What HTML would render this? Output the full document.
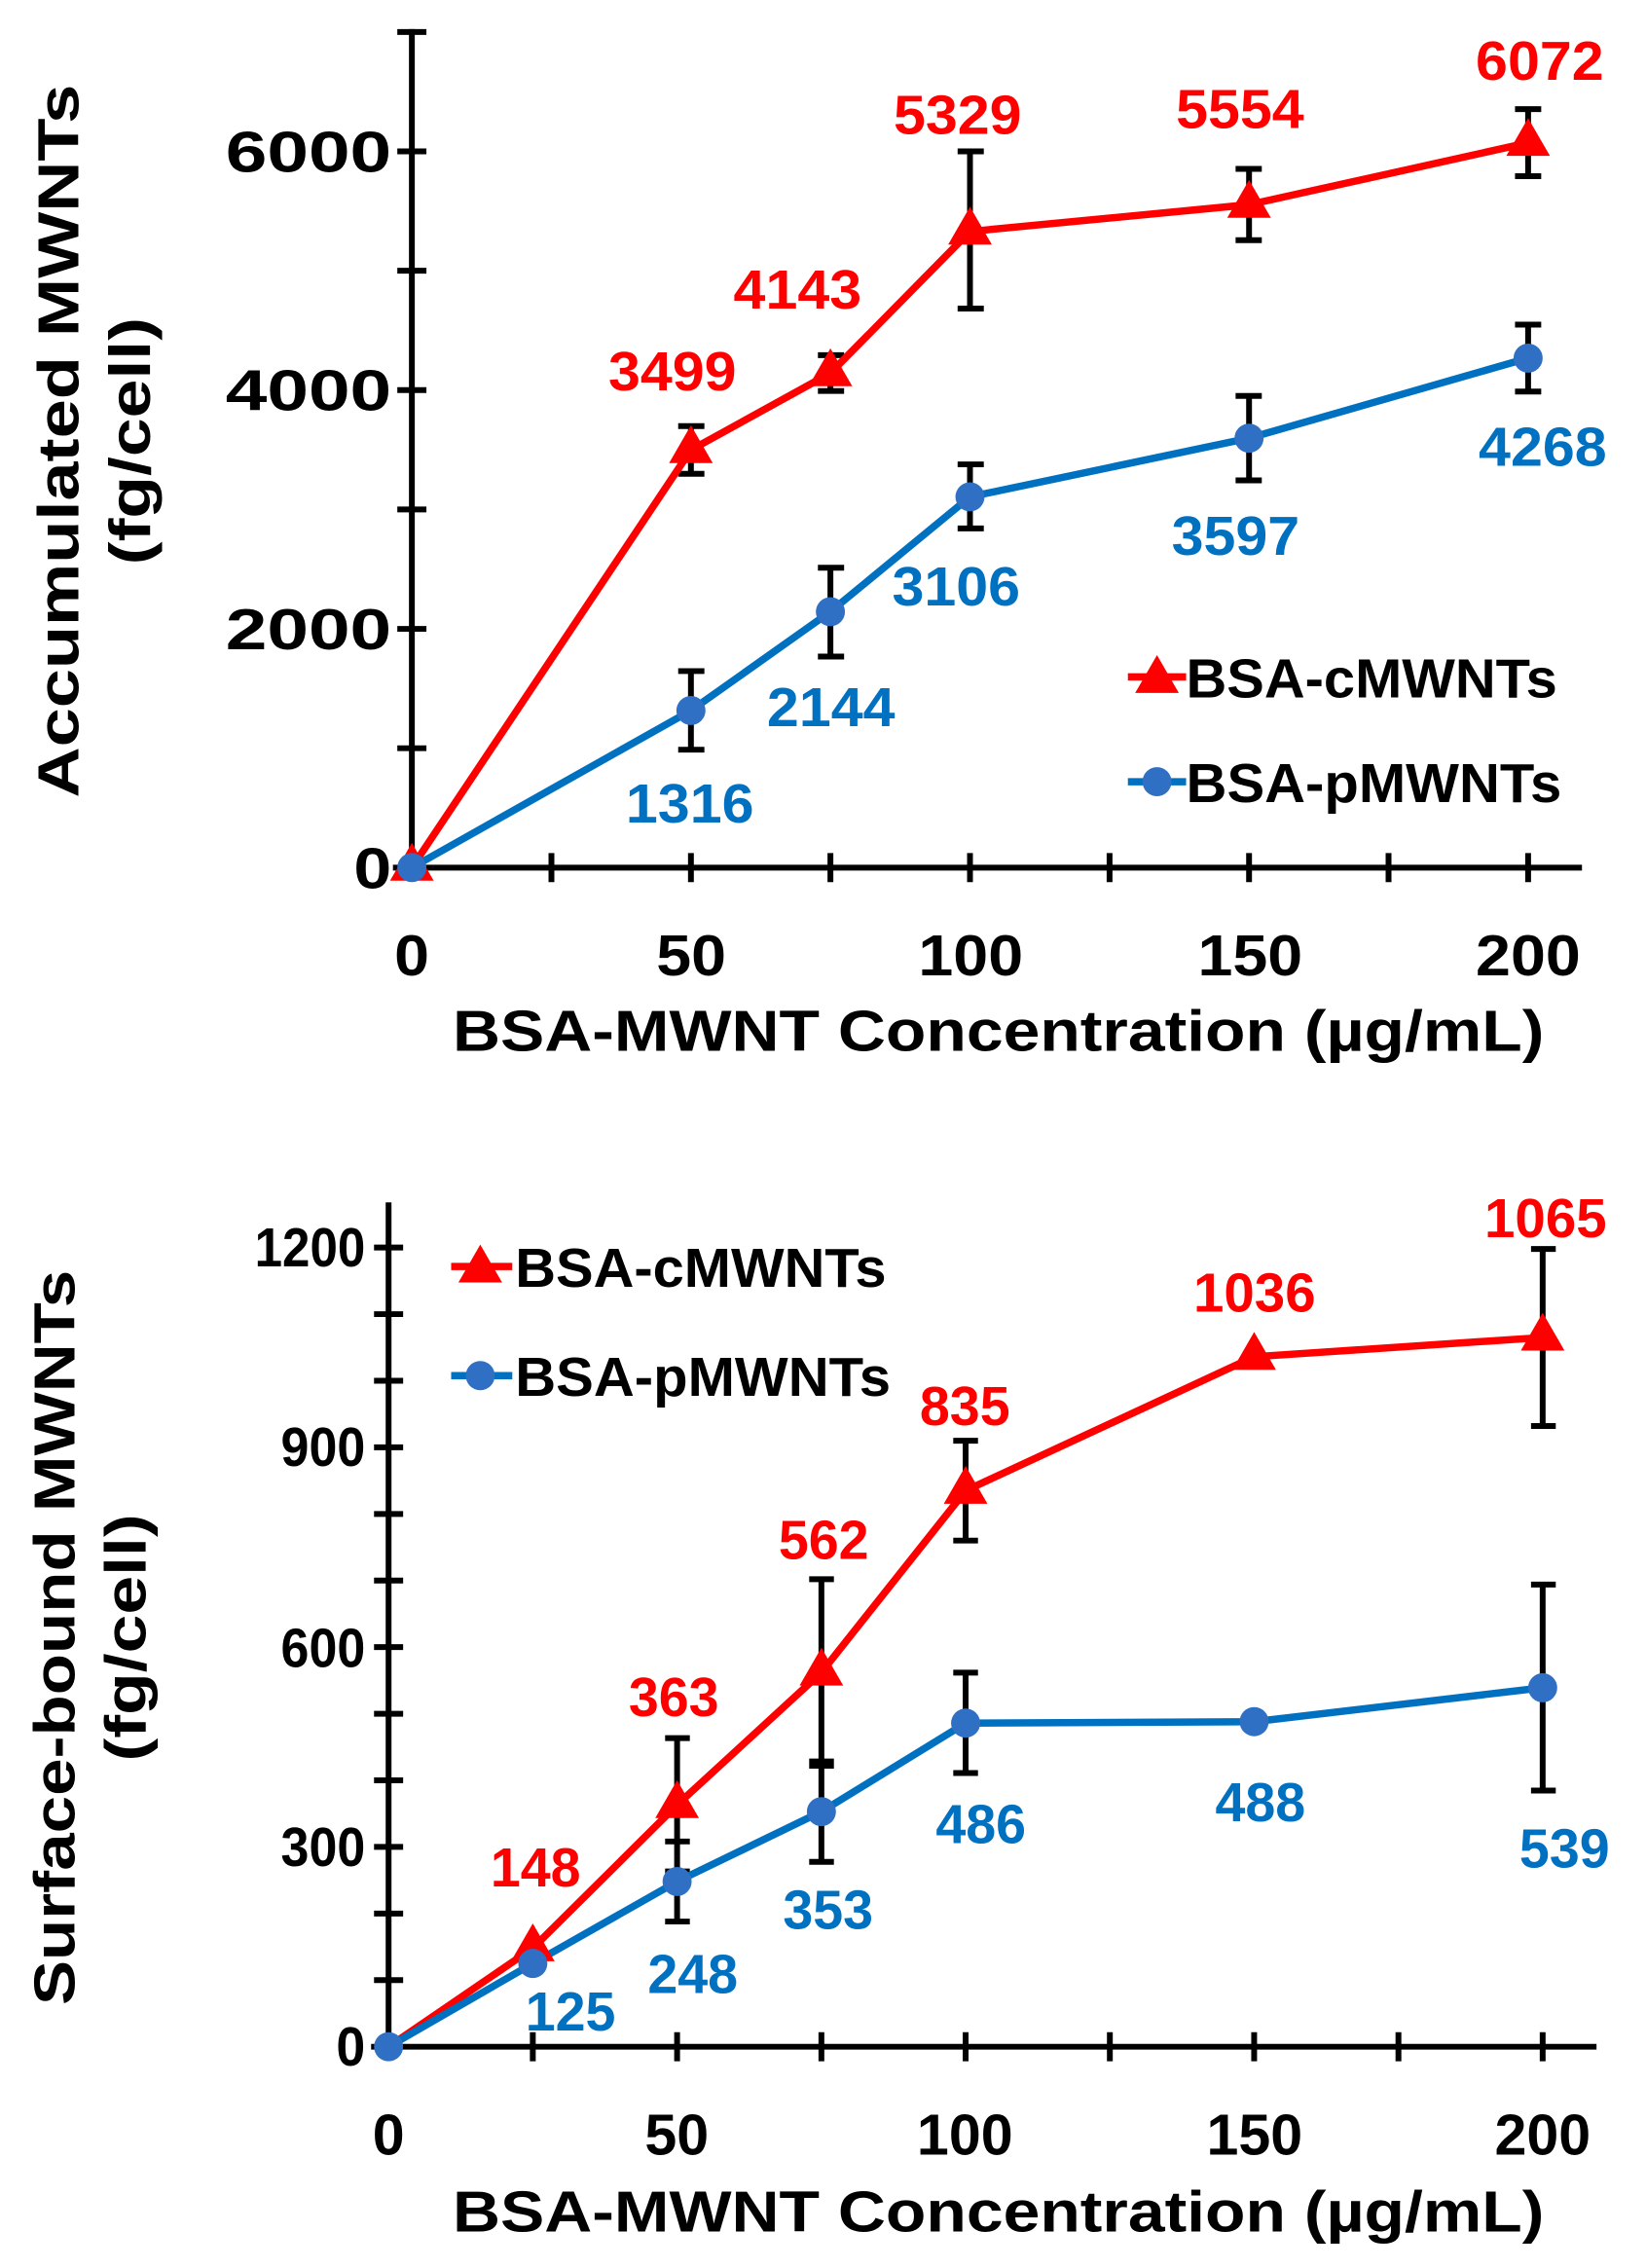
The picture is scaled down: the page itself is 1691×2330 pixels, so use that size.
<!DOCTYPE html>
<html><head><meta charset="utf-8"><style>
html,body{margin:0;padding:0;background:#fff}
svg{display:block}
text{font-family:"Liberation Sans",sans-serif;font-weight:bold}
</style></head><body>
<svg width="1691" height="2330" viewBox="0 0 1131 1558" preserveAspectRatio="none" xmlns="http://www.w3.org/2000/svg">
<defs>
<path id="tri" d="M0,-17 L15,9 L-15,9 Z" fill="#ff0000"/>
<circle id="cir" r="10" fill="#2f6fc4"/>
</defs>
<!-- ============ TOP CHART ============ -->
<g stroke="#000" stroke-width="4" fill="none">
<line x1="283" y1="20" x2="283" y2="596"/>
<line x1="270" y1="596" x2="1087" y2="596"/>
<path d="M273,514h20M273,432h20M273,350h20M273,268h20M273,186h20M273,104h20M273,22h20"/>
<path d="M378.9,586v20M474.75,586v20M570.6,586v20M666.5,586v20M762.4,586v20M858.25,586v20M954.1,586v20M1050,586v20"/>
<path d="M474.75,292.7V325.5M466,292.7h18M466,325.5h18
M570.6,244V268.6M562,244h18M562,268.6h18
M666.5,104V212M658,104h18M658,212h18
M858.25,116V165M849,116h18M849,165h18
M1050,75V121M1041,75h18M1041,121h18
M474.75,461V515M466,461h18M466,515h18
M570.6,390V451M562,390h18M562,451h18
M666.5,319V363M658,319h18M658,363h18
M858.25,272V330M849,272h18M849,330h18
M1050,223V269M1041,223h18M1041,269h18"/>
</g>
<polyline points="283,596 474.75,309.1 570.6,256.3 666.5,159 858.25,140.6 1050,98.1" fill="none" stroke="#ff0000" stroke-width="5" stroke-linejoin="round"/>
<polyline points="283,596 474.75,488.1 570.6,420.2 666.5,341.3 858.25,301 1050,246" fill="none" stroke="#0070c0" stroke-width="5" stroke-linejoin="round"/>
<use href="#tri" x="283" y="596"/><use href="#tri" x="474.75" y="309.1"/><use href="#tri" x="570.6" y="256.3"/><use href="#tri" x="666.5" y="159"/><use href="#tri" x="858.25" y="140.6"/><use href="#tri" x="1050" y="98.1"/>
<use href="#cir" x="283" y="596"/><use href="#cir" x="474.75" y="488.1"/><use href="#cir" x="570.6" y="420.2"/><use href="#cir" x="666.5" y="341.3"/><use href="#cir" x="858.25" y="301"/><use href="#cir" x="1050" y="246"/>
<g font-size="40" fill="#000" text-anchor="end" lengthAdjust="spacingAndGlyphs">
<text x="269" y="610" textLength="26" lengthAdjust="spacingAndGlyphs">0</text>
<text x="269" y="446" textLength="114" lengthAdjust="spacingAndGlyphs">2000</text>
<text x="269" y="282" textLength="114" lengthAdjust="spacingAndGlyphs">4000</text>
<text x="269" y="118" textLength="114" lengthAdjust="spacingAndGlyphs">6000</text>
</g>
<g font-size="40" fill="#000" text-anchor="middle">
<text x="283" y="670" textLength="24" lengthAdjust="spacingAndGlyphs">0</text><text x="475" y="670" textLength="48" lengthAdjust="spacingAndGlyphs">50</text><text x="667" y="670" textLength="72" lengthAdjust="spacingAndGlyphs">100</text><text x="859" y="670" textLength="72" lengthAdjust="spacingAndGlyphs">150</text><text x="1050" y="670" textLength="72" lengthAdjust="spacingAndGlyphs">200</text>
</g>
<text x="686" y="722" font-size="40" text-anchor="middle" textLength="750" lengthAdjust="spacingAndGlyphs">BSA-MWNT Concentration (µg/mL)</text>
<text transform="translate(54,303) rotate(-90)" font-size="40" text-anchor="middle" textLength="490" lengthAdjust="spacingAndGlyphs">Accumulated MWNTs</text>
<text transform="translate(103,303) rotate(-90)" font-size="40" text-anchor="middle" textLength="170" lengthAdjust="spacingAndGlyphs">(fg/cell)</text>
<g font-size="38" text-anchor="middle" fill="#ff0000">
<text x="462" y="268" textLength="88" lengthAdjust="spacingAndGlyphs">3499</text><text x="548" y="212" textLength="88" lengthAdjust="spacingAndGlyphs">4143</text><text x="658" y="92" textLength="88" lengthAdjust="spacingAndGlyphs">5329</text><text x="852" y="88" textLength="88" lengthAdjust="spacingAndGlyphs">5554</text><text x="1058" y="55" textLength="88" lengthAdjust="spacingAndGlyphs">6072</text>
</g>
<g font-size="38" text-anchor="middle" fill="#0070c0">
<text x="474" y="565" textLength="88" lengthAdjust="spacingAndGlyphs">1316</text><text x="571" y="499" textLength="88" lengthAdjust="spacingAndGlyphs">2144</text><text x="657" y="416" textLength="88" lengthAdjust="spacingAndGlyphs">3106</text><text x="849" y="381" textLength="88" lengthAdjust="spacingAndGlyphs">3597</text><text x="1060" y="320" textLength="88" lengthAdjust="spacingAndGlyphs">4268</text>
</g>
<line x1="775" y1="465" x2="815" y2="465" stroke="#ff0000" stroke-width="5"/><use href="#tri" x="795" y="467"/>
<text x="815" y="479" font-size="38" fill="#000" textLength="255" lengthAdjust="spacingAndGlyphs">BSA-cMWNTs</text>
<line x1="775" y1="537" x2="815" y2="537" stroke="#0070c0" stroke-width="5"/><use href="#cir" x="795" y="537"/>
<text x="815" y="551" font-size="38" fill="#000" textLength="258" lengthAdjust="spacingAndGlyphs">BSA-pMWNTs</text>

<!-- ============ BOTTOM CHART ============ -->
<g stroke="#000" stroke-width="4" fill="none">
<line x1="267" y1="826" x2="267" y2="1406"/>
<line x1="255" y1="1406" x2="1097" y2="1406"/>
<path d="M257,1360.25h20M257,1314.5h20M257,1268.75h20M257,1223h20M257,1177.25h20M257,1131.5h20M257,1085.75h20M257,1040h20M257,994.25h20M257,948.5h20M257,902.75h20M257,857h20"/>
<path d="M366.1,1396v20M465.25,1396v20M564.4,1396v20M663.5,1396v20M762.6,1396v20M861.75,1396v20M960.9,1396v20M1060,1396v20"/>
<path d="M465.25,1194V1285.6M457,1194h17M457,1285.6h17
M564.4,1084.8V1213M556,1084.8h17M556,1213h17
M663.5,989.7V1058.3M655,989.7h17M655,1058.3h17
M1060,858V979.6M1052,858h17M1052,979.6h17
M465.25,1265V1320M457,1265h17M457,1320h17
M564.4,1210V1279M556,1210h17M556,1279h17
M663.5,1149V1218M655,1149h17M655,1218h17
M1060,1088.5V1230M1052,1088.5h17M1052,1230h17"/>
</g>
<polyline points="267,1406 366.1,1338.3 465.25,1239.9 564.4,1148.9 663.5,1024 861.75,932 1060,918.8" fill="none" stroke="#ff0000" stroke-width="5" stroke-linejoin="round"/>
<polyline points="267,1406 366.1,1348.8 465.25,1292.5 564.4,1244.5 663.5,1183.7 861.75,1182.7 1060,1159.4" fill="none" stroke="#0070c0" stroke-width="5" stroke-linejoin="round"/>
<use href="#tri" x="366.1" y="1338.3"/><use href="#tri" x="465.25" y="1239.9"/><use href="#tri" x="564.4" y="1148.9"/><use href="#tri" x="663.5" y="1024"/><use href="#tri" x="861.75" y="932"/><use href="#tri" x="1060" y="918.8"/>
<use href="#cir" x="267" y="1406"/><use href="#cir" x="366.1" y="1348.8"/><use href="#cir" x="465.25" y="1292.5"/><use href="#cir" x="564.4" y="1244.5"/><use href="#cir" x="663.5" y="1183.7"/><use href="#cir" x="861.75" y="1182.7"/><use href="#cir" x="1060" y="1159.4"/>
<g font-size="38" fill="#000" text-anchor="end">
<text x="251" y="1419" textLength="20" lengthAdjust="spacingAndGlyphs">0</text><text x="251" y="1282" textLength="58" lengthAdjust="spacingAndGlyphs">300</text><text x="251" y="1145" textLength="58" lengthAdjust="spacingAndGlyphs">600</text><text x="251" y="1007" textLength="58" lengthAdjust="spacingAndGlyphs">900</text><text x="251" y="870" textLength="76" lengthAdjust="spacingAndGlyphs">1200</text>
</g>
<g font-size="40" fill="#000" text-anchor="middle">
<text x="267" y="1480" textLength="22" lengthAdjust="spacingAndGlyphs">0</text><text x="465" y="1480" textLength="44" lengthAdjust="spacingAndGlyphs">50</text><text x="663" y="1480" textLength="66" lengthAdjust="spacingAndGlyphs">100</text><text x="862" y="1480" textLength="66" lengthAdjust="spacingAndGlyphs">150</text><text x="1060" y="1480" textLength="66" lengthAdjust="spacingAndGlyphs">200</text>
</g>
<text x="686" y="1533" font-size="40" text-anchor="middle" textLength="750" lengthAdjust="spacingAndGlyphs">BSA-MWNT Concentration (µg/mL)</text>
<text transform="translate(51,1125) rotate(-90)" font-size="40" text-anchor="middle" textLength="505" lengthAdjust="spacingAndGlyphs">Surface-bound MWNTs</text>
<text transform="translate(100,1125) rotate(-90)" font-size="40" text-anchor="middle" textLength="170" lengthAdjust="spacingAndGlyphs">(fg/cell)</text>
<g font-size="38" text-anchor="middle" fill="#ff0000">
<text x="368" y="1296" textLength="62" lengthAdjust="spacingAndGlyphs">148</text><text x="463" y="1179" textLength="62" lengthAdjust="spacingAndGlyphs">363</text><text x="566" y="1071" textLength="62" lengthAdjust="spacingAndGlyphs">562</text><text x="663" y="979" textLength="62" lengthAdjust="spacingAndGlyphs">835</text><text x="862" y="901" textLength="84" lengthAdjust="spacingAndGlyphs">1036</text><text x="1062" y="850" textLength="84" lengthAdjust="spacingAndGlyphs">1065</text>
</g>
<g font-size="38" text-anchor="middle" fill="#0070c0">
<text x="392" y="1395" textLength="62" lengthAdjust="spacingAndGlyphs">125</text><text x="476" y="1369" textLength="62" lengthAdjust="spacingAndGlyphs">248</text><text x="569" y="1325" textLength="62" lengthAdjust="spacingAndGlyphs">353</text><text x="674" y="1266" textLength="62" lengthAdjust="spacingAndGlyphs">486</text><text x="866" y="1251" textLength="62" lengthAdjust="spacingAndGlyphs">488</text><text x="1075" y="1283" textLength="62" lengthAdjust="spacingAndGlyphs">539</text>
</g>
<line x1="310" y1="870" x2="352" y2="870" stroke="#ff0000" stroke-width="5"/><use href="#tri" x="330" y="872"/>
<text x="354" y="884" font-size="38" fill="#000" textLength="255" lengthAdjust="spacingAndGlyphs">BSA-cMWNTs</text>
<line x1="310" y1="945" x2="352" y2="945" stroke="#0070c0" stroke-width="5"/><use href="#cir" x="330" y="945"/>
<text x="354" y="959" font-size="38" fill="#000" textLength="258" lengthAdjust="spacingAndGlyphs">BSA-pMWNTs</text>
</svg>
</body></html>
